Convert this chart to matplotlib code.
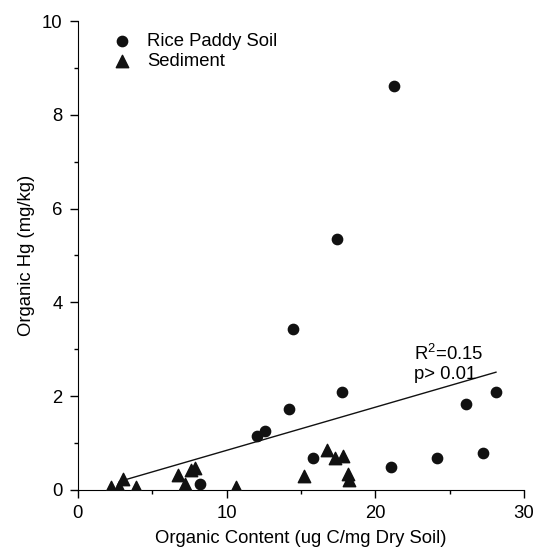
import numpy as np
import matplotlib
matplotlib.use("Agg")
import matplotlib.pyplot as plt

plt.rcParams['font.family'] = ['Liberation Sans', 'DejaVu Sans']

# rice paddy soil (circles)
rice_x = [21.24, 17.45, 14.45, 17.77, 14.23, 12.06, 12.59, 26.12, 28.12,
          15.8, 21.06, 24.13, 27.24, 8.2]
rice_y = [8.62, 5.35, 3.43, 2.08, 1.73, 1.14, 1.26, 1.83, 2.08,
          0.68, 0.49, 0.67, 0.79, 0.13]

# sediment (triangles)
sed_x = [2.24, 2.8, 3.05, 3.88, 6.77, 7.24, 7.6, 7.9, 10.64, 15.19,
         16.76, 17.27, 17.81, 18.17, 18.21]
sed_y = [0.05, 0.07, 0.23, 0.05, 0.32, 0.12, 0.42, 0.46, 0.07, 0.30,
         0.85, 0.68, 0.72, 0.33, 0.2]

# regression line end points
fit_x = [3.35, 28.12]
fit_y = [0.23, 2.51]

fs = 13.3

fig = plt.figure(figsize=(5.33, 5.56), dpi=100)
ax = fig.add_axes([0.146, 0.119, 0.837, 0.843])

ax.scatter(rice_x, rice_y, s=55, marker='o', color='#111111', zorder=3,
           label='Rice Paddy Soil')
ax.scatter(sed_x, sed_y, s=80, marker='^', color='#111111', zorder=3,
           label='Sediment')
ax.plot(fit_x, fit_y, color='#111111', lw=1.0)

ax.text(22.6, 3.12, 'R$^{\\mathregular{2}}$=0.15', fontsize=fs, va='top', ha='left')
ax.text(22.6, 2.65, 'p> 0.01', fontsize=fs, va='top', ha='left')

ax.set_xlim(0, 30)
ax.set_ylim(0, 10)
ax.set_xticks([0, 10, 20, 30])
ax.set_xticks([5, 15, 25], minor=True)
ax.set_yticks([0, 2, 4, 6, 8, 10])
ax.set_yticks([1, 3, 5, 7, 9], minor=True)
ax.tick_params(which='both', direction='out', labelsize=fs, width=1)
ax.tick_params(which='major', length=6, pad=5)
ax.tick_params(which='minor', length=3)

ax.spines['top'].set_visible(False)
ax.spines['right'].set_visible(False)

ax.set_xlabel('Organic Content (ug C/mg Dry Soil)', fontsize=fs, labelpad=6)
ax.set_ylabel('Organic Hg (mg/kg)', fontsize=fs, labelpad=5)

ax.legend(loc='upper left', bbox_to_anchor=(0.04, 0.99), frameon=False,
          fontsize=fs, handletextpad=0.4, labelspacing=0.15,
          borderaxespad=0)

fig.savefig('out.png', dpi=100)
